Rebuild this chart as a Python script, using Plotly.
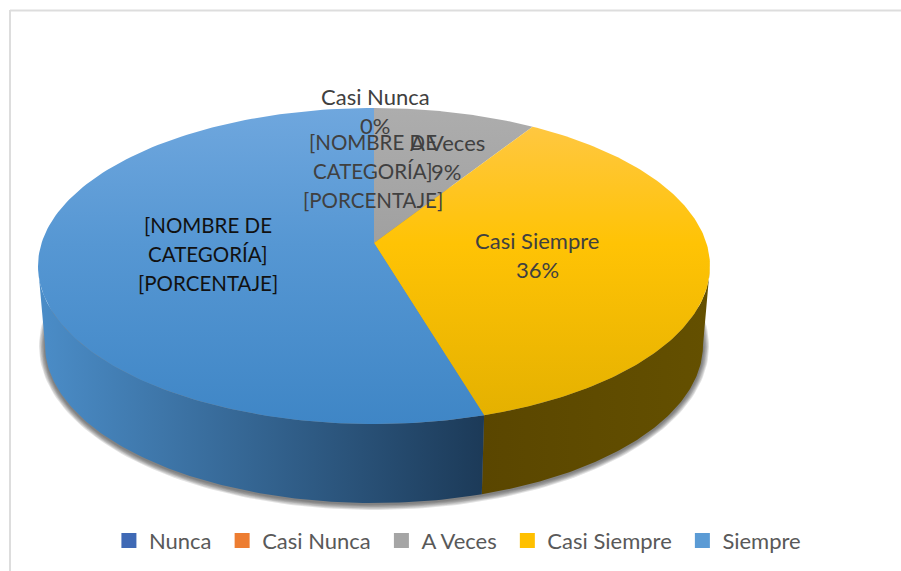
import numpy as np
import plotly.graph_objects as go

categories = ["Nunca", "Casi Nunca", "A Veces", "Casi Siempre", "Siempre"]
values = [0.0, 0.0, 9.0, 36.4, 54.6]
legend_colors = ["#3F69B5", "#ED7D31", "#A5A5A5", "#FFC000", "#5B9BD5"]
top_scales = {
    "A Veces": ["#ADADAD", "#A0A0A0", "#8C8C8C"],
    "Casi Siempre": ["#FFC84A", "#FFC305", "#E3B000"],
    "Siempre": ["#6FA7DE", "#5697D3", "#3F86C6"],
}
side_scales = {
    "Casi Siempre": ["#5A4600", "#645000"],
    "Siempre": ["#4B8DC8", "#1C3A58"],
}
label_font = "Lato"
placeholder = ["[NOMBRE DE", "CATEGORÍA]", "[PORCENTAJE]"]

W, H = 901, 571
CX, CY, RX, RY = 374.0, 266.0, 336.0, 158.0
BX, BY, BRX, BRY = 374.0, 345.0, 329.0, 158.0
LEAN = 23.0 / 158.0


def ring(phi, cx, cy, rx, ry):
    return cx + rx * np.sin(phi), cy - ry * np.cos(phi)


def view_angle(share):
    t = 2 * np.pi * share / 100.0
    x, y = np.sin(t), np.cos(t)
    d = 1 + LEAN * y
    phi = np.arctan2(x * np.sqrt(1 - LEAN**2) / d, (y + LEAN) / d)
    return phi % (2 * np.pi) if share > 0 else 0.0


fig = go.Figure()

# soft shadow below the drum
for grow in range(6, 0, -1):
    sx, sy = ring(np.linspace(0, 2 * np.pi, 240), BX, BY + 1, BRX + grow, BRY + grow)
    fig.add_trace(go.Scatter(x=sx, y=sy, mode="lines", line=dict(width=0), fill="toself",
                             fillcolor="rgba(50,50,50,0.14)", showlegend=False, hoverinfo="skip"))

edges = np.cumsum(values)
starts = np.concatenate([[0.0], edges[:-1]])
bands = {c: (view_angle(s), view_angle(e) if e < 100 else 2 * np.pi)
         for c, s, e in zip(categories, starts, edges)}

# side walls
for name, colors in side_scales.items():
    a, b = bands[name]
    a, b = max(a, np.pi / 2), min(b, 3 * np.pi / 2)
    phi = np.linspace(a, b, 120)
    tx, ty = ring(phi, CX, CY, RX, RY)
    ux, uy = ring(phi[::-1], BX, BY, BRX, BRY)
    fig.add_trace(go.Scatter(
        x=np.r_[tx, ux, tx[0]], y=np.r_[ty, uy, ty[0]], mode="lines", line=dict(width=0),
        fill="toself", showlegend=False, hoverinfo="skip",
        fillgradient=dict(type="horizontal", colorscale=[[0, colors[0]], [1, colors[1]]])))

# top face
apex_x, apex_y = CX, CY - LEAN * RY
for name, colors in top_scales.items():
    a, b = bands[name]
    phi = np.linspace(a, b, 160)
    tx, ty = ring(phi, CX, CY, RX, RY)
    fig.add_trace(go.Scatter(
        x=np.r_[apex_x, tx, apex_x], y=np.r_[apex_y, ty, apex_y], mode="lines", line=dict(width=0),
        fill="toself", showlegend=False, hoverinfo="skip",
        fillgradient=dict(type="vertical",
                          colorscale=[[0, colors[2]], [0.57, colors[1]], [1, colors[0]]],
                          start=CY + RY, stop=CY - RY)))

# legend entries
for name, color in zip(categories, legend_colors):
    fig.add_trace(go.Scatter(x=[None], y=[None], mode="markers", name=name + "\u00a0",
                             marker=dict(symbol="square", size=15, color=color)))

# data labels
labels = [
    (375, 96, "Casi Nunca", "#404040", 22),
    (375, 125, f"{round(values[1])}%", "#404040", 22),
    (447, 142, "A Veces", "#404040", 22),
    (446, 171, f"{round(values[2])}%", "#404040", 22),
    (537, 240, categories[3], "#404040", 22),
    (537, 269, f"{round(values[3])}%", "#404040", 22),
]
for i, line in enumerate(placeholder):
    labels.append((373, 142 + 29 * i, line, "#404040", 20.5))
    labels.append((208, 225 + 29 * i, line, "#111111", 20.5))
annotations = [dict(x=x, y=y, text=t, xref="x", yref="y", showarrow=False,
                    font=dict(family=label_font, size=s, color=c)) for x, y, t, c, s in labels]

frame = [
    dict(type="line", x0=10, x1=W, y0=10.5, y1=10.5, xref="x", yref="y", line=dict(color="#DDDDDD", width=2)),
    dict(type="line", x0=10, x1=10, y0=10, y1=H, xref="x", yref="y", line=dict(color="#DDDDDD", width=2)),
]

fig.update_layout(
    width=W, height=H, margin=dict(l=0, r=0, t=0, b=0),
    paper_bgcolor="white", plot_bgcolor="white",
    xaxis=dict(range=[0, W], visible=False, fixedrange=True),
    yaxis=dict(range=[H, 0], visible=False, fixedrange=True),
    shapes=frame, annotations=annotations,
    legend=dict(orientation="h", x=0.511, xanchor="center", y=0.053, yanchor="middle",
                font=dict(family=label_font, size=22, color="#595959"), itemwidth=30),
)
fig.write_html("out.html", config=dict(displayModeBar=False),
               post_script="document.body.style.margin='0';document.documentElement.style.overflow='hidden';")
